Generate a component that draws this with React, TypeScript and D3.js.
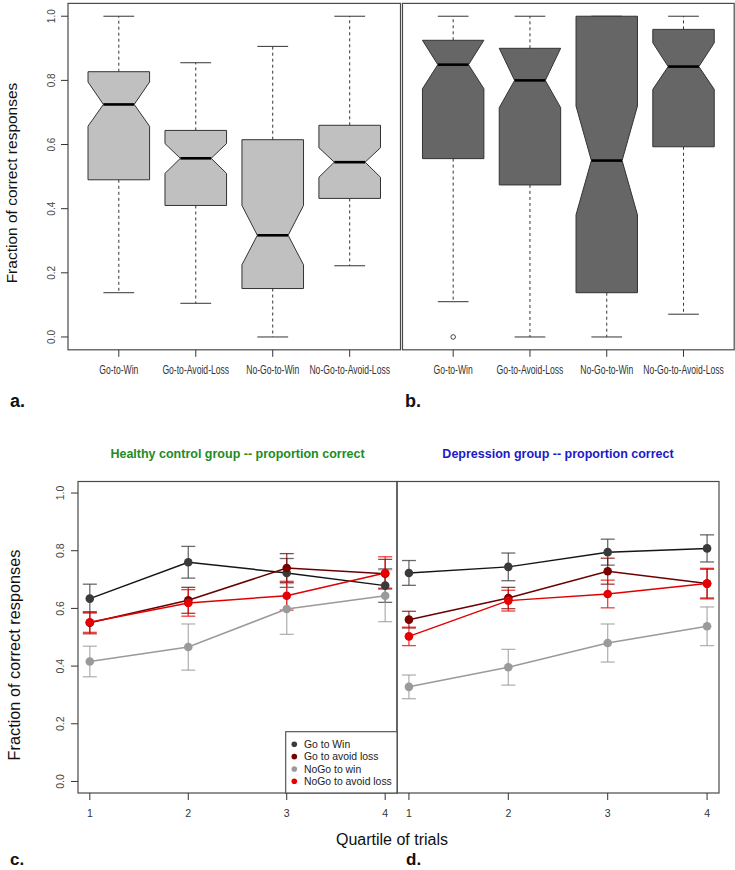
import React from "react";
import * as d3 from "d3";

// ---------- Panel a/b : box plots ----------
const boxCategories = ["Go-to-Win", "Go-to-Avoid-Loss", "No-Go-to-Win", "No-Go-to-Avoid-Loss"];
const boxTicks = [0, 0.2, 0.4, 0.6, 0.8, 1.0];

// healthy controls (panel a)
const hcMin = [0.138, 0.105, 0.0, 0.222];
const hcQ1 = [0.49, 0.41, 0.151, 0.432];
const hcNotchLo = [0.657, 0.51, 0.225, 0.498];
const hcMedian = [0.725, 0.557, 0.317, 0.545];
const hcNotchHi = [0.795, 0.603, 0.41, 0.59];
const hcQ3 = [0.827, 0.644, 0.615, 0.66];
const hcMax = [1.0, 0.855, 0.906, 1.0];
const hcOutliers: number[][] = [[], [], [], []];

// depression group (panel b)
const dpMin = [0.11, 0.0, 0.0, 0.071];
const dpQ1 = [0.556, 0.474, 0.138, 0.593];
const dpNotchLo = [0.774, 0.715, 0.381, 0.772];
const dpMedian = [0.849, 0.8, 0.55, 0.843];
const dpNotchHi = [0.925, 0.9, 0.72, 0.917];
const dpQ3 = [0.925, 0.9, 1.0, 0.959];
const dpMax = [1.0, 1.0, 1.0, 1.0];
const dpOutliers: number[][] = [[0.0], [], [], []];

// ---------- Panel c/d : quartile lines ----------
const quartiles = [1, 2, 3, 4];
const lineTicks = [0, 0.2, 0.4, 0.6, 0.8, 1.0];
const seriesNames = ["Go to Win", "Go to avoid loss", "NoGo to win", "NoGo to avoid loss"];
const seriesColors = ["#3a3a3a", "#7a0000", "#9a9a9a", "#e60000"];
const lineColors = ["#151515", "#6a0000", "#9a9a9a", "#e00000"];

// healthy control means and error half-widths
const hcGoWin = [0.634, 0.76, 0.723, 0.679];
const hcGoWinErr = [0.05, 0.055, 0.05, 0.058];
const hcGoAvoid = [0.55, 0.628, 0.74, 0.72];
const hcGoAvoidErr = [0.038, 0.045, 0.05, 0.05];
const hcNoGoWin = [0.416, 0.466, 0.598, 0.644];
const hcNoGoWinErr = [0.053, 0.08, 0.088, 0.09];
const hcNoGoAvoid = [0.552, 0.619, 0.644, 0.723];
const hcNoGoAvoidErr = [0.035, 0.046, 0.05, 0.056];

// depression group means and error half-widths
const dpGoWin = [0.723, 0.744, 0.795, 0.808];
const dpGoWinErr = [0.043, 0.048, 0.045, 0.047];
const dpGoAvoid = [0.561, 0.636, 0.729, 0.686];
const dpGoAvoidErr = [0.029, 0.037, 0.045, 0.05];
const dpNoGoWin = [0.328, 0.396, 0.48, 0.538];
const dpNoGoWinErr = [0.041, 0.062, 0.066, 0.067];
const dpNoGoAvoid = [0.503, 0.627, 0.65, 0.686];
const dpNoGoAvoidErr = [0.032, 0.036, 0.048, 0.053];

const FONT = "'Liberation Sans', Arial, Helvetica, sans-serif";
const FRAME = "#4a4a4a";

type BoxStats = {
  min: number[]; q1: number[]; nlo: number[]; med: number[]; nhi: number[]; q3: number[]; max: number[]; out: number[][];
};

function BoxPanel({ x0, x1, fill, stats, showY }: { x0: number; x1: number; fill: string; stats: BoxStats; showY: boolean }) {
  const x = d3.scaleLinear().domain([0.34, 4.66]).range([x0, x1]);
  const y = d3.scaleLinear().domain([-0.04, 1.04]).range([349.8, 3.4]);
  const hw = x(0.4) - x(0);
  return (
    <g>
      {boxCategories.map((c, i) => {
        const cx = x(i + 1);
        const poly: [number, number][] = [
          [cx - hw, y(stats.q1[i])],
          [cx - hw, y(stats.nlo[i])],
          [cx - hw / 2, y(stats.med[i])],
          [cx - hw, y(stats.nhi[i])],
          [cx - hw, y(stats.q3[i])],
          [cx + hw, y(stats.q3[i])],
          [cx + hw, y(stats.nhi[i])],
          [cx + hw / 2, y(stats.med[i])],
          [cx + hw, y(stats.nlo[i])],
          [cx + hw, y(stats.q1[i])],
        ];
        return (
          <g key={c}>
            <line x1={cx} x2={cx} y1={y(stats.q3[i])} y2={y(stats.max[i])} stroke="#333" strokeDasharray="3,3" />
            <line x1={cx} x2={cx} y1={y(stats.q1[i])} y2={y(stats.min[i])} stroke="#333" strokeDasharray="3,3" />
            <line x1={cx - hw / 2} x2={cx + hw / 2} y1={y(stats.max[i])} y2={y(stats.max[i])} stroke="#333" />
            <line x1={cx - hw / 2} x2={cx + hw / 2} y1={y(stats.min[i])} y2={y(stats.min[i])} stroke="#333" />
            <polygon points={poly.map((p) => p.join(",")).join(" ")} fill={fill} stroke="#333" strokeWidth={1} />
            <line x1={cx - hw / 2} x2={cx + hw / 2} y1={y(stats.med[i])} y2={y(stats.med[i])} stroke="#000" strokeWidth={2.6} />
            {stats.out[i].map((o, k) => (
              <circle key={k} cx={cx} cy={y(o)} r={2.3} fill="none" stroke="#333" strokeWidth={0.9} />
            ))}
            <line x1={cx} x2={cx} y1={y(-0.04)} y2={y(-0.04) + 7} stroke="#333" />
            <text
              transform={`translate(${cx},${y(-0.04) + 24.5}) scale(0.7,1)`}
              textAnchor="middle"
              fontSize={12.3}
              fontFamily={FONT}
              fill="#333"
            >
              {c}
            </text>
          </g>
        );
      })}
      <rect x={x0} y={y(1.04)} width={x1 - x0} height={y(-0.04) - y(1.04)} fill="none" stroke={FRAME} strokeWidth={1.2} />
      {showY &&
        boxTicks.map((t) => (
          <g key={t}>
            <line x1={x0} x2={x0 - 7} y1={y(t)} y2={y(t)} stroke="#333" />
            <text
              transform={`translate(${x0 - 13},${y(t)}) rotate(-90)`}
              textAnchor="middle"
              fontSize={10}
              fontFamily={FONT}
              fill="#444"
            >
              {t.toFixed(1)}
            </text>
          </g>
        ))}
    </g>
  );
}

type Series = { mean: number[]; err: number[] };

function LinePanel({ x0, x1, series, showY }: { x0: number; x1: number; series: Series[]; showY: boolean }) {
  const x = d3.scaleLinear().domain([0.88, 4.12]).range([x0, x1]);
  const y = d3.scaleLinear().domain([-0.04, 1.04]).range([793, 481.5]);
  const lineGen = d3
    .line<number>()
    .x((_d, i) => x(quartiles[i]))
    .y((d) => y(d));
  const cap = 7;
  return (
    <g>
      <rect x={x0} y={y(1.04)} width={x1 - x0} height={y(-0.04) - y(1.04)} fill="none" stroke={FRAME} strokeWidth={1.2} />
      {series.map((s, si) => (
        <g key={"e" + si}>
          {s.mean.map((m, i) => {
            const cx = x(quartiles[i]);
            const lo = y(m - s.err[i]);
            const hi = y(m + s.err[i]);
            return (
              <g key={i} stroke={seriesColors[si]} strokeOpacity={0.75} strokeWidth={1.3}>
                <line x1={cx} x2={cx} y1={lo} y2={hi} />
                <line x1={cx - cap} x2={cx + cap} y1={lo} y2={lo} />
                <line x1={cx - cap} x2={cx + cap} y1={hi} y2={hi} />
              </g>
            );
          })}
        </g>
      ))}
      {series.map((s, si) => (
        <g key={"l" + si}>
          <path d={lineGen(s.mean) || ""} fill="none" stroke={lineColors[si]} strokeWidth={1.5} />
          {s.mean.map((m, i) => (
            <circle key={i} cx={x(quartiles[i])} cy={y(m)} r={4.3} fill={seriesColors[si]} />
          ))}
        </g>
      ))}
      {quartiles.map((q) => (
        <g key={q}>
          <line x1={x(q)} x2={x(q)} y1={y(-0.04)} y2={y(-0.04) + 7} stroke="#333" />
          <text x={x(q)} y={y(-0.04) + 24} textAnchor="middle" fontSize={10.5} fontFamily={FONT} fill="#333">
            {q}
          </text>
        </g>
      ))}
      {showY &&
        lineTicks.map((t) => (
          <g key={t}>
            <line x1={x0} x2={x0 - 7} y1={y(t)} y2={y(t)} stroke="#333" />
            <text
              transform={`translate(${x0 - 14},${y(t)}) rotate(-90)`}
              textAnchor="middle"
              fontSize={10.5}
              fontFamily={FONT}
              fill="#444"
            >
              {t.toFixed(1)}
            </text>
          </g>
        ))}
    </g>
  );
}

function Legend({ x0, y0, x1, y1 }: { x0: number; y0: number; x1: number; y1: number }) {
  const rowY = d3.scaleLinear().domain([0, 3]).range([y0 + 12.6, y0 + 49.6]);
  return (
    <g>
      <rect x={x0} y={y0} width={x1 - x0} height={y1 - y0} fill="#fff" stroke={FRAME} strokeWidth={1.1} />
      {seriesNames.map((n, i) => (
        <g key={n}>
          <circle cx={x0 + 8.6} cy={rowY(i)} r={2.8} fill={seriesColors[i]} />
          <text x={x0 + 18.3} y={rowY(i) + 3.8} fontSize={10.4} fontFamily={FONT} fill="#222">
            {n}
          </text>
        </g>
      ))}
    </g>
  );
}

export default function App() {
  const hcStats: BoxStats = { min: hcMin, q1: hcQ1, nlo: hcNotchLo, med: hcMedian, nhi: hcNotchHi, q3: hcQ3, max: hcMax, out: hcOutliers };
  const dpStats: BoxStats = { min: dpMin, q1: dpQ1, nlo: dpNotchLo, med: dpMedian, nhi: dpNotchHi, q3: dpQ3, max: dpMax, out: dpOutliers };
  const hcSeries: Series[] = [
    { mean: hcGoWin, err: hcGoWinErr },
    { mean: hcGoAvoid, err: hcGoAvoidErr },
    { mean: hcNoGoWin, err: hcNoGoWinErr },
    { mean: hcNoGoAvoid, err: hcNoGoAvoidErr },
  ];
  const dpSeries: Series[] = [
    { mean: dpGoWin, err: dpGoWinErr },
    { mean: dpGoAvoid, err: dpGoAvoidErr },
    { mean: dpNoGoWin, err: dpNoGoWinErr },
    { mean: dpNoGoAvoid, err: dpNoGoAvoidErr },
  ];
  return (
    <svg
      width={735}
      height={870}
      viewBox="0 0 735 870"
      style={{ position: "absolute", left: 0, top: 0, background: "#fff" }}
      fontFamily={FONT}
    >
      <rect x={0} y={0} width={735} height={870} fill="#fff" />
      <BoxPanel x0={68} x1={400.5} fill="#c0c0c0" stats={hcStats} showY={true} />
      <BoxPanel x0={402.5} x1={734.2} fill="#666666" stats={dpStats} showY={false} />
      <text transform="translate(17,183) rotate(-90)" textAnchor="middle" fontSize={15.5} fill="#111">
        Fraction of correct responses
      </text>
      <text x={10} y={407} fontSize={18} fontWeight="bold" fill="#111">a.</text>
      <text x={405} y={407} fontSize={18} fontWeight="bold" fill="#111">b.</text>

      <text x={237.5} y={458} textAnchor="middle" fontSize={12.5} fontWeight="bold" fill="#228B22">
        Healthy control group -- proportion correct
      </text>
      <text x={558} y={458} textAnchor="middle" fontSize={12.5} fontWeight="bold" fill="#1a1ac8">
        Depression group -- proportion correct
      </text>
      <LinePanel x0={78} x1={397} series={hcSeries} showY={true} />
      <LinePanel x0={397} x1={719} series={dpSeries} showY={false} />
      <Legend x0={285.7} y0={731.7} x1={397} y1={793} />
      <text transform="translate(20,655) rotate(-90)" textAnchor="middle" fontSize={16.3} fill="#111">
        Fraction of correct responses
      </text>
      <text x={392} y={845} textAnchor="middle" fontSize={16} fill="#111">
        Quartile of trials
      </text>
      <text x={10} y={865} fontSize={17} fontWeight="bold" fill="#111">c.</text>
      <text x={406} y={865} fontSize={17} fontWeight="bold" fill="#111">d.</text>
    </svg>
  );
}
